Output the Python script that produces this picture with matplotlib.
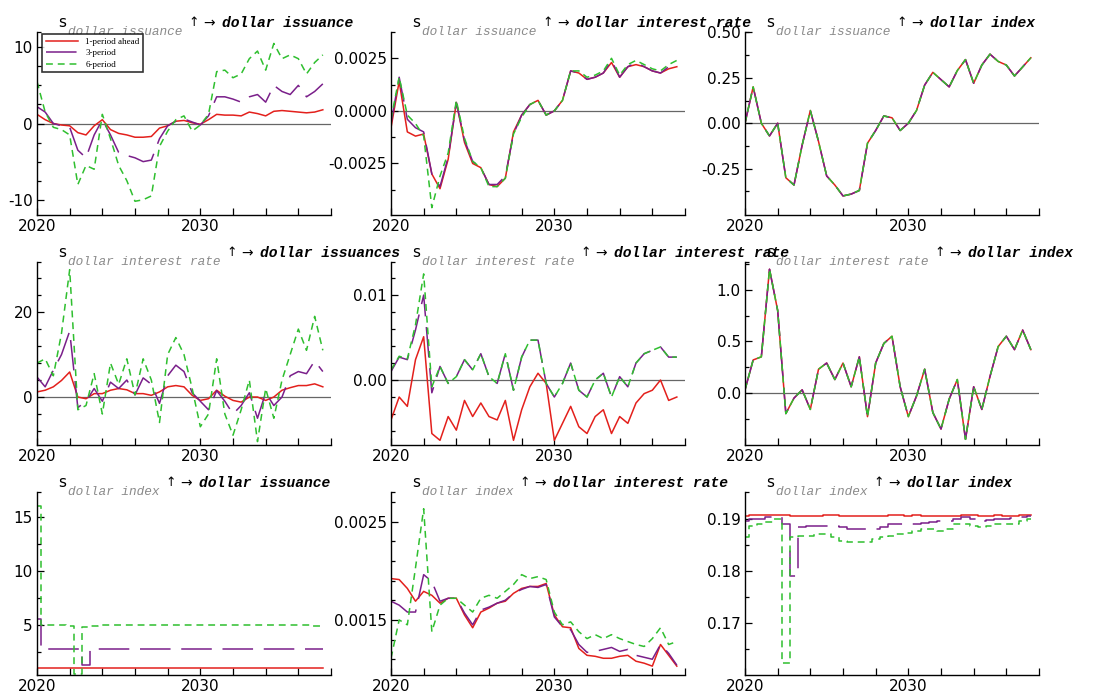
import numpy as np
import matplotlib
matplotlib.use("Agg")
import matplotlib.pyplot as plt
from matplotlib.ticker import FixedLocator, FormatStrFormatter

plt.rcParams['axes.unicode_minus'] = False

W, H = 1093, 700

# time grid (half-year steps)
years = 2020 + 0.5 * np.arange(36)

labels = ['1-period ahead', '3-period', '6-period']

# Row 1: shock in dollar issuance
iss_iss_r = [1.2, 0.5, 0.0, -0.2, -0.3, -1.2, -1.5, -0.3, 0.5, -0.8, -1.3, -1.5, -1.8, -1.8, -1.7, -0.6, -0.3, 0.3,
             0.4, 0.1, -0.1, 0.5, 1.2, 1.1, 1.1, 1.0, 1.5, 1.3, 1.0, 1.6, 1.7, 1.6, 1.5, 1.4, 1.5, 1.8]
iss_iss_p = [2.2, 1.5, 0.0, -0.3, -0.5, -3.5, -4.5, -1.5, 0.5, -1.5, -3.8, -4.2, -4.5, -5.0, -4.8, -2.0, -0.3, 0.3,
             0.6, 0.2, -0.2, 1.0, 3.5, 3.5, 3.2, 2.8, 3.5, 3.8, 2.8, 5.0, 4.2, 3.8, 5.0, 3.5, 4.2, 5.2]
iss_iss_g = [5.5, 1.5, -0.5, -0.8, -1.5, -8.0, -5.5, -6.0, 1.2, -2.0, -5.5, -7.5, -10.2, -10.0, -9.5, -3.0, -1.0, 0.5,
             1.0, -1.0, -0.2, 1.2, 6.8, 7.0, 6.0, 6.5, 8.5, 9.5, 7.0, 10.5, 8.5, 9.0, 8.5, 6.5, 8.0, 9.0]

iss_ir_r = [-0.0008, 0.0014, -0.0010, -0.0012, -0.0011, -0.0030, -0.0037, -0.0023, 0.0004, -0.0015, -0.0025, -0.0027,
            -0.0035, -0.0036, -0.0032, -0.0010, -0.0002, 0.0003, 0.0005, -0.0002, 0.0000, 0.0005, 0.0019, 0.0018,
            0.0015, 0.0016, 0.0018, 0.0023, 0.0016, 0.0021, 0.0022, 0.0021, 0.0019, 0.0018, 0.0020, 0.0021]
iss_ir_p = [-0.0006, 0.0016, -0.0004, -0.0008, -0.0010, -0.0030, -0.0036, -0.0022, 0.0004, -0.0014, -0.0024, -0.0027,
            -0.0035, -0.0035, -0.0031, -0.0011, -0.0002, 0.0003, 0.0005, -0.0002, 0.0000, 0.0005, 0.0019, 0.0018,
            0.0015, 0.0016, 0.0018, 0.0024, 0.0016, 0.0021, 0.0023, 0.0021, 0.0019, 0.0018, 0.0021, 0.0022]
iss_ir_g = [-0.0004, 0.0016, -0.0002, -0.0006, -0.0012, -0.0046, -0.0031, -0.0020, 0.0005, -0.0013, -0.0024, -0.0027,
            -0.0036, -0.0036, -0.0032, -0.0011, -0.0003, 0.0003, 0.0005, -0.0002, 0.0000, 0.0005, 0.0019, 0.0019,
            0.0016, 0.0017, 0.0019, 0.0025, 0.0017, 0.0022, 0.0024, 0.0022, 0.0020, 0.0019, 0.0022, 0.0024]

iss_idx_r = [0.00, 0.20, 0.00, -0.07, 0.00, -0.30, -0.34, -0.12, 0.07, -0.10, -0.29, -0.34, -0.40, -0.39, -0.37, -0.11,
             -0.04, 0.04, 0.03, -0.04, 0.00, 0.07, 0.21, 0.28, 0.24, 0.20, 0.29, 0.35, 0.22, 0.32, 0.38, 0.34, 0.32,
             0.26, 0.31, 0.36]
iss_idx_p = iss_idx_r
iss_idx_g = iss_idx_r

# Row 2: shock in dollar interest rate
ir_iss_r = [1.2, 1.6, 2.4, 3.9, 5.9, 0.0, -0.4, 0.8, 0.8, 1.6, 2.0, 1.7, 0.8, 0.8, 0.4, 1.2, 2.4, 2.7, 2.4, 0.4, -0.8,
            -0.4, 1.6, 0.2, -0.8, -1.2, 0.0, 0.0, -0.8, 0.0, 1.6, 2.2, 2.7, 2.7, 3.1, 2.4]
ir_iss_p = [4.7, 2.4, 6.3, 10.0, 15.5, -2.5, -1.0, 2.0, -1.0, 3.5, 2.0, 4.0, 0.5, 4.5, 3.0, -1.5, 5.0, 7.5, 6.0, 1.0,
            -1.0, -3.0, 1.5, -1.0, -4.0, -2.0, 1.0, -5.0, 1.0, -2.0, 0.0, 5.0, 6.0, 5.5, 8.5, 6.0]
ir_iss_g = [8.0, 9.0, 5.0, 15.0, 30.0, -3.0, -2.0, 5.5, -4.0, 8.0, 3.0, 9.0, 0.5, 9.0, 4.0, -6.0, 10.0, 14.0, 10.0, 2.0,
            -7.0, -4.0, 9.0, -4.0, -9.0, -3.0, 4.0, -10.5, 2.0, -5.0, 4.0, 10.0, 16.0, 11.0, 19.0, 11.0]

ir_ir_r = [-0.0047, -0.0020, -0.0031, 0.0024, 0.0051, -0.0063, -0.0071, -0.0043, -0.0059, -0.0024, -0.0043, -0.0027,
           -0.0043, -0.0047, -0.0024, -0.0071, -0.0035, -0.0008, 0.0008, -0.0004, -0.0071, -0.0051, -0.0031, -0.0055,
           -0.0063, -0.0043, -0.0035, -0.0063, -0.0043, -0.0051, -0.0027, -0.0016, -0.0012, 0.0000, -0.0024, -0.0020]
ir_ir_p = [0.0010, 0.0027, 0.0024, 0.0059, 0.0100, -0.0015, 0.0016, -0.0004, 0.0004, 0.0024, 0.0012, 0.0031, 0.0004,
           -0.0004, 0.0031, -0.0012, 0.0027, 0.0047, 0.0047, -0.0004, -0.0020, -0.0004, 0.0020, -0.0012, -0.0020,
           0.0000, 0.0008, -0.0020, 0.0004, -0.0008, 0.0020, 0.0031, 0.0035, 0.0039, 0.0027, 0.0027]
ir_ir_g = [0.0012, 0.0028, 0.0025, 0.0065, 0.0125, -0.0008, 0.0016, -0.0004, 0.0004, 0.0024, 0.0012, 0.0031, 0.0004,
           -0.0004, 0.0031, -0.0012, 0.0027, 0.0047, 0.0047, -0.0004, -0.0020, -0.0004, 0.0020, -0.0012, -0.0020,
           0.0000, 0.0008, -0.0020, 0.0004, -0.0008, 0.0020, 0.0031, 0.0035, 0.0039, 0.0027, 0.0027]

ir_idx_r = [0.03, 0.32, 0.35, 1.20, 0.80, -0.20, -0.05, 0.03, -0.16, 0.23, 0.29, 0.13, 0.29, 0.06, 0.35, -0.23, 0.29,
            0.48, 0.55, 0.06, -0.23, -0.03, 0.23, -0.19, -0.35, -0.06, 0.13, -0.45, 0.06, -0.16, 0.16, 0.45, 0.55,
            0.42, 0.61, 0.42]
ir_idx_p = ir_idx_r
ir_idx_g = ir_idx_r

# Row 3: shock in dollar index
idx_iss_r = [1.0, 1.0, 1.0, 1.0, 1.0, 1.0, 1.0, 1.0, 1.0, 1.0, 1.0, 1.0, 1.0, 1.0, 1.0, 1.0, 1.0, 1.0,
             1.0, 1.0, 1.0, 1.0, 1.0, 1.0, 1.0, 1.0, 1.0, 1.0, 1.0, 1.0, 1.0, 1.0, 1.0, 1.0, 1.0, 1.0]
idx_iss_p = [5.5, 2.7, 2.7, 2.7, 2.7, 2.7, 1.3, 2.7, 2.7, 2.7, 2.7, 2.7, 2.7, 2.7, 2.7, 2.7, 2.7, 2.7,
             2.7, 2.7, 2.7, 2.7, 2.7, 2.7, 2.7, 2.7, 2.7, 2.7, 2.7, 2.7, 2.7, 2.7, 2.7, 2.7, 2.7, 2.7]
idx_iss_g = [16.0, 5.0, 5.0, 5.0, 4.9, 0.4, 4.8, 4.9, 5.0, 5.0, 5.0, 5.0, 5.0, 5.0, 5.0, 5.0, 5.0, 5.0,
             5.0, 5.0, 5.0, 5.0, 5.0, 5.0, 5.0, 5.0, 5.0, 5.0, 5.0, 5.0, 5.0, 5.0, 5.0, 5.0, 4.9, 4.9]

idx_ir_r = [0.00192, 0.00191, 0.00182, 0.00169, 0.00179, 0.00175, 0.00167, 0.00172, 0.00172, 0.00155, 0.00142,
            0.00158, 0.00162, 0.00167, 0.00169, 0.00177, 0.00182, 0.00184, 0.00184, 0.00187, 0.00155, 0.00143,
            0.00142, 0.00121, 0.00114, 0.00113, 0.00111, 0.00111, 0.00113, 0.00114, 0.00108, 0.00106, 0.00103,
            0.00125, 0.00114, 0.00103]
idx_ir_p = [0.00169, 0.00165, 0.00158, 0.00158, 0.00196, 0.00189, 0.00169, 0.00172, 0.00172, 0.00157, 0.00145,
            0.00160, 0.00163, 0.00167, 0.00170, 0.00177, 0.00181, 0.00184, 0.00183, 0.00186, 0.00153, 0.00143,
            0.00140, 0.00125, 0.00117, 0.00118, 0.00120, 0.00122, 0.00118, 0.00120, 0.00114, 0.00112, 0.00110,
            0.00125, 0.00116, 0.00104]
idx_ir_g = [0.00111, 0.00150, 0.00145, 0.00203, 0.00263, 0.00138, 0.00165, 0.00172, 0.00172, 0.00165, 0.00158,
            0.00172, 0.00175, 0.00172, 0.00179, 0.00186, 0.00196, 0.00192, 0.00194, 0.00191, 0.00158, 0.00145,
            0.00148, 0.00138, 0.00131, 0.00135, 0.00131, 0.00135, 0.00131, 0.00128, 0.00125, 0.00123, 0.00131,
            0.00142, 0.00125, 0.00128]

idx_idx_r = [0.1906, 0.1907, 0.1907, 0.1908, 0.1908, 0.1907, 0.1906, 0.1906, 0.1906, 0.1906, 0.1907, 0.1907,
             0.1906, 0.1906, 0.1906, 0.1906, 0.1906, 0.1906, 0.1907, 0.1907, 0.1906, 0.1907, 0.1906, 0.1906,
             0.1906, 0.1906, 0.1906, 0.1908, 0.1907, 0.1906, 0.1906, 0.1907, 0.1906, 0.1906, 0.1907, 0.1908]
idx_idx_p = [0.1897, 0.1900, 0.1900, 0.1903, 0.1903, 0.1890, 0.1790, 0.1885, 0.1887, 0.1887, 0.1887, 0.1887,
             0.1884, 0.1881, 0.1881, 0.1880, 0.1881, 0.1884, 0.1890, 0.1890, 0.1890, 0.1890, 0.1892, 0.1894,
             0.1897, 0.1897, 0.1900, 0.1903, 0.1900, 0.1897, 0.1898, 0.1900, 0.1900, 0.1902, 0.1904, 0.1906]
idx_idx_g = [0.1865, 0.1887, 0.1890, 0.1894, 0.1900, 0.1623, 0.1865, 0.1868, 0.1868, 0.1871, 0.1871, 0.1865,
             0.1858, 0.1855, 0.1855, 0.1855, 0.1861, 0.1865, 0.1868, 0.1871, 0.1874, 0.1877, 0.1881, 0.1881,
             0.1877, 0.1881, 0.1890, 0.1890, 0.1887, 0.1884, 0.1887, 0.1890, 0.1890, 0.1890, 0.1897, 0.1900]

subs = ['dollar issuance', 'dollar interest rate', 'dollar index']
mains = [['dollar issuance', 'dollar interest rate', 'dollar index'],
         ['dollar issuances', 'dollar interest rate', 'dollar index'],
         ['dollar issuance', 'dollar interest rate', 'dollar index']]

panels = [
    [(iss_iss_r, iss_iss_p, iss_iss_g), (-12.0, 12.0), [-10, 0, 10], [-7.5, -5, -2.5, 2.5, 5, 7.5], '%g'],
    [(iss_ir_r, iss_ir_p, iss_ir_g), (-0.00495, 0.00375), [-0.0025, 0.0, 0.0025], [-0.00375, -0.00125, 0.00125], '%.4f'],
    [(iss_idx_r, iss_idx_p, iss_idx_g), (-0.505, 0.502), [-0.25, 0.0, 0.25, 0.5], [-0.375, -0.125, 0.125, 0.375], '%.2f'],
    [(ir_iss_r, ir_iss_p, ir_iss_g), (-11.3, 31.8), [0, 20], [-8, -4, 4, 8, 12, 16, 24, 28], '%g'],
    [(ir_ir_r, ir_ir_p, ir_ir_g), (-0.00765, 0.0139), [0.0, 0.01], [-0.006, -0.004, -0.002, 0.002, 0.004, 0.006, 0.008, 0.012], '%.2f'],
    [(ir_idx_r, ir_idx_p, ir_idx_g), (-0.505, 1.27), [0.0, 0.5, 1.0], [-0.25, 0.25, 0.75, 1.25], '%.1f'],
    [(idx_iss_r, idx_iss_p, idx_iss_g), (0.33, 17.3), [5, 10, 15], [2.5, 7.5, 12.5], '%g'],
    [(idx_ir_r, idx_ir_p, idx_ir_g), (0.00094, 0.0028), [0.0015, 0.0025], [0.0011, 0.0013, 0.0017, 0.0019, 0.0021, 0.0023, 0.0027], '%.4f'],
    [(idx_idx_r, idx_idx_p, idx_idx_g), (0.160, 0.1952), [0.17, 0.18, 0.19], [0.165, 0.175, 0.185], '%.2f'],
]
step_panels = {6, 8}

colors = ['#e3201c', '#7a1f8a', '#2fbf2f']
styles = [dict(linestyle='-'), dict(linestyle=(0, (20, 7))), dict(linestyle=(0, (4.5, 3.2)))]

fig = plt.figure(figsize=(W / 100, H / 100), dpi=100)

col_left = [37, 391, 745]
row_top = [32, 262, 492]
aw, ah = 294, 183

mono = ['Liberation Mono', 'DejaVu Sans Mono']


def add_title(ax, sub, main):
    pos = ax.get_position()
    x0 = pos.x0 + 21 / W
    y0 = pos.y1 + 5 / H
    t1 = ax.text(x0, y0, 's', transform=fig.transFigure, fontsize=11, family='DejaVu Sans',
                 va='baseline', ha='left', clip_on=False)
    t2 = ax.annotate(sub, xy=(1, 0), xycoords=t1, xytext=(1.5, -6), textcoords='offset points',
                     fontsize=9.2, family=mono, style='italic', color='#8a8a8a',
                     va='bottom', ha='left', annotation_clip=False)
    t3 = ax.annotate('\u2191', xy=(1, 0), xycoords=t2, xytext=(4, 7), textcoords='offset points',
                     fontsize=9, family='DejaVu Sans', va='bottom', ha='left', annotation_clip=False)
    t4 = ax.annotate('\u2192', xy=(1, 0), xycoords=t3, xytext=(3.5, -1), textcoords='offset points',
                     fontsize=10, family='DejaVu Sans', va='bottom', ha='left', annotation_clip=False)
    ax.annotate(main, xy=(1, 0), xycoords=t4, xytext=(5, 0), textcoords='offset points',
                fontsize=10.5, family=mono, style='italic', weight='bold',
                va='bottom', ha='left', annotation_clip=False)


for k, (series, ylim, majors, minors, fmt) in enumerate(panels):
    r, c = divmod(k, 3)
    ax = fig.add_axes([col_left[c] / W, 1 - (row_top[r] + ah) / H, aw / W, ah / H])
    ds = 'steps-mid' if k in step_panels else 'default'
    for vals, col, st, lab in zip(series, colors, styles, labels):
        ax.plot(years, vals, color=col, lw=1.1, drawstyle=ds, label=lab, **st)
    if ylim[0] < 0 < ylim[1]:
        ax.axhline(0, color='#666666', lw=0.9, zorder=0.5)
    ax.set_xlim(2020, 2038)
    ax.set_ylim(*ylim)
    ax.xaxis.set_major_locator(FixedLocator([2020, 2030]))
    ax.xaxis.set_minor_locator(FixedLocator(np.arange(2022, 2039, 2)))
    ax.xaxis.set_major_formatter(FormatStrFormatter('%d'))
    ax.yaxis.set_major_locator(FixedLocator(majors))
    ax.yaxis.set_minor_locator(FixedLocator(list(minors) + [ylim[1] - 1e-9 * abs(ylim[1])]))
    ax.yaxis.set_major_formatter(FormatStrFormatter(fmt))
    for s in ['top', 'right']:
        ax.spines[s].set_visible(False)
    for s in ['left', 'bottom']:
        ax.spines[s].set_linewidth(1.0)
    ax.tick_params(which='both', direction='in', top=False, right=False)
    ax.tick_params(which='major', length=5, width=0.9, labelsize=11, pad=3)
    ax.tick_params(which='minor', length=3, width=0.9)
    ax.tick_params(axis='x', which='minor', length=5)
    ax.set_facecolor('none')
    add_title(ax, subs[r], mains[r][c])
    if k == 0:
        leg = ax.legend(loc='upper left', bbox_to_anchor=(0.017, 0.99), borderaxespad=0,
                        prop={'family': 'Liberation Serif', 'size': 6.5}, frameon=True, fancybox=False,
                        handlelength=3.6, labelspacing=0.35, borderpad=0.4)
        leg.get_frame().set_edgecolor('black')
        leg.get_frame().set_linewidth(1.2)

fig.savefig('out.png', dpi=100)
